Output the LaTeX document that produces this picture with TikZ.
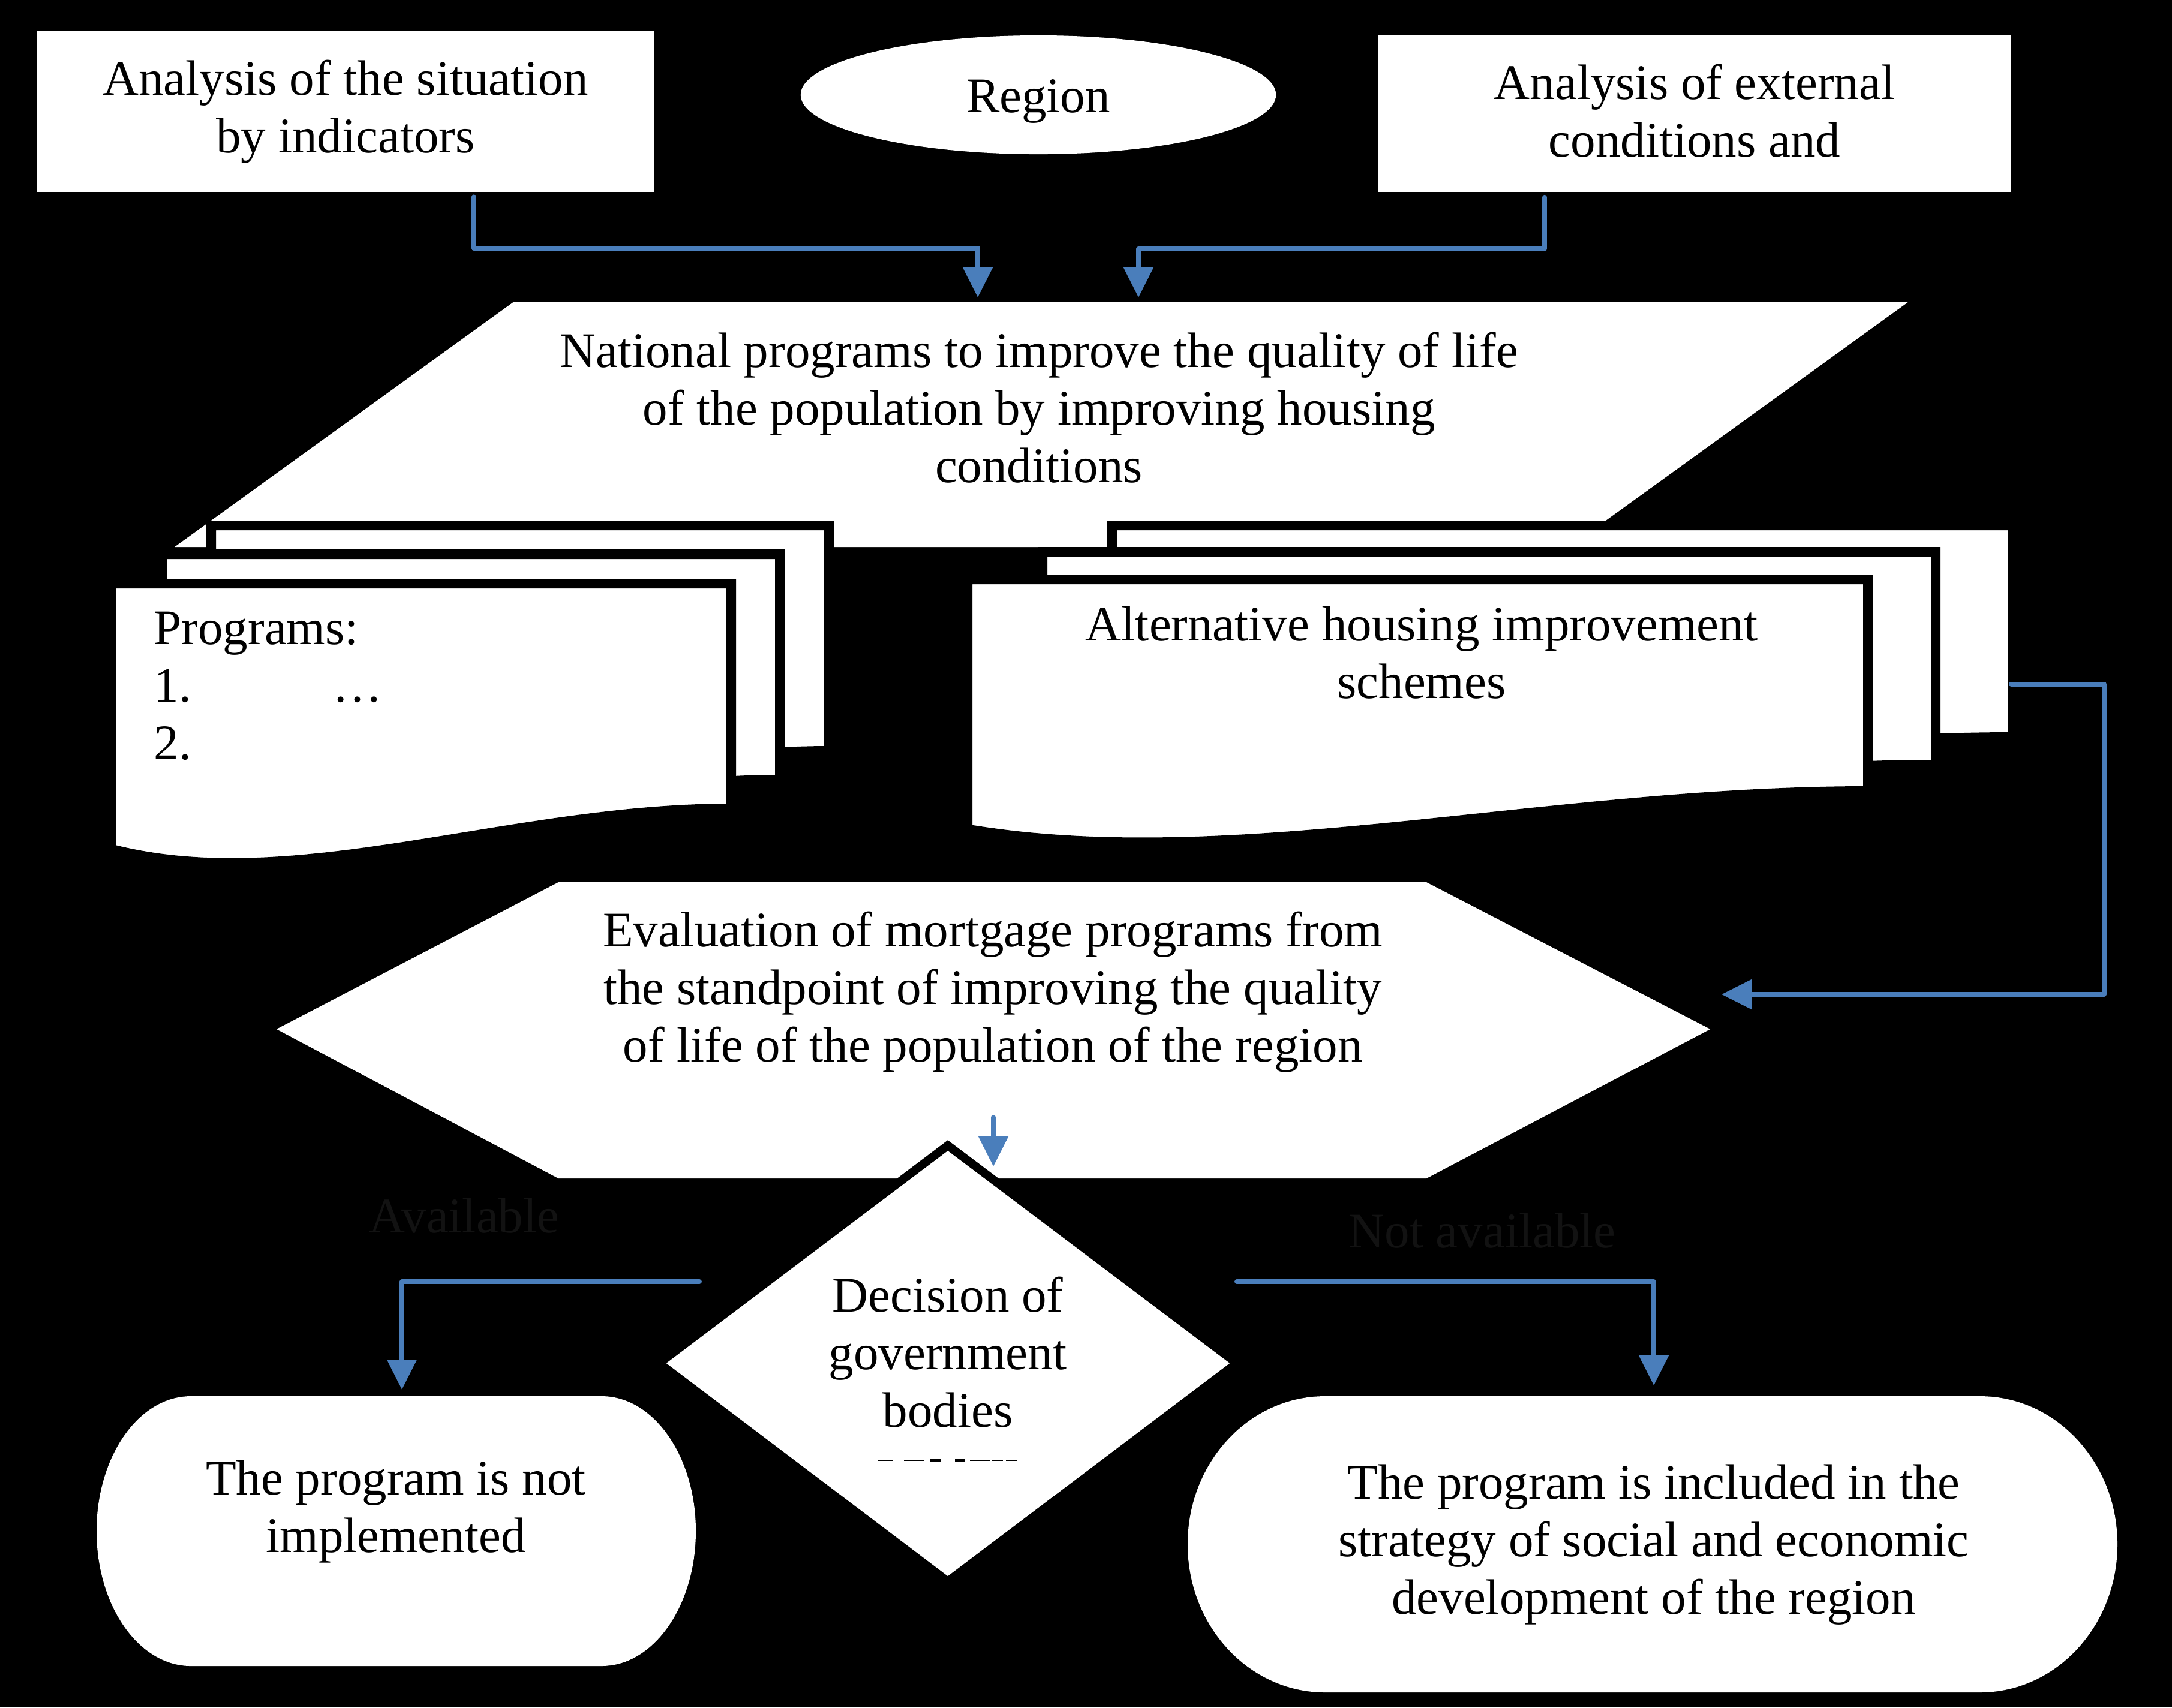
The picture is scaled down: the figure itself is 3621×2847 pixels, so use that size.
\documentclass[tikz,border=0pt]{standalone}
\usepackage{fontspec}
\setmainfont{Liberation Serif}
\usetikzlibrary{arrows.meta,calc,shapes.geometric}
\definecolor{conblue}{RGB}{74,126,187}
\definecolor{faint}{RGB}{18,18,18}
\begin{document}
\begin{tikzpicture}[x=0.01cm,y=-0.01cm,
  txt/.style={font=\fontsize{23.6pt}{27.3pt}\selectfont, align=center, inner sep=0pt, text=black},
  shapefill/.style={fill=white, draw=none},
  docsty/.style={fill=white, draw=black, line width=0.16cm, line join=miter},
  diasty/.style={fill=white, draw=black, line width=0.14cm, line join=miter},
  conn/.style={draw=conblue, line width=0.08cm, line cap=round, line join=round},
  arr/.style={conn, -{Triangle[length=0.5cm,width=0.48cm,sharp]}},
  pics/mdoc/.style args={#1/#2}{code={%
    \path[docsty] (0,0) -- (#1,0) -- (#1,#2)
      .. controls ({0.64*#1},#2) and ({0.295*#1},{1.39*#2}) .. (0,{1.18*#2}) -- cycle;}}
]
% background
\fill[black] (0,0) rectangle (3621,2847);
\useasboundingbox (0,0) rectangle (3621,2847);

% top row
\node[txt, fill=white, minimum width=10.28cm, minimum height=2.67cm] (box1) at (576,186)
  {Analysis of the situation\\by indicators};
\node[txt, ellipse, fill=white, minimum width=7.92cm, minimum height=1.98cm] (region) at (1731,158) {};
\node[txt] (regionT) at (1731,169) {Region};
\node[txt, fill=white, minimum width=10.55cm, minimum height=2.62cm] (box2) at (2825,189) {};
\node[txt] (box2T) at (2825,185) {Analysis of external\\conditions and};

% parallelogram
\path[shapefill] (857,503) -- (3182,503) -- (2616,912) -- (291,912) -- cycle;
\node[txt] (nat) at (1732,680) {National programs to improve the quality of life\\of the population by improving housing\\conditions};

% documents, left stack
\pic at (352,876) {mdoc=1030/376};
\pic at (270,924) {mdoc=1030/376};
\pic at (185,973) {mdoc=1034/375};
\node[txt, anchor=west, align=left] (progs) at (256,1144)
  {Programs:\\\makebox[2.98cm][l]{1.}…\\2.};

% documents, right stack
\pic at (1854,876) {mdoc=1501/353};
\pic at (1738,920) {mdoc=1489/355};
\pic at (1613,966) {mdoc=1501/353};
\node[txt] (alt) at (2370,1088) {Alternative housing improvement\\schemes};

% hexagon
\path[shapefill] (931,1471) -- (2378,1471) -- (2851,1716) -- (2378,1965) -- (931,1965) -- (461,1716) -- cycle;
\node[txt] (evalT) at (1655,1654) {Evaluation of mortgage programs from\\the standpoint of improving the quality\\of life of the population of the region};

% diamond
\path[diasty] (1580,1910) -- (2062,2273) -- (1580,2637) -- (1099,2273) -- cycle;
\node[txt] (dec) at (1580,2255) {Decision of\\government\\bodies};
\draw[black, line width=0.025cm] (1463,2435) -- (1489,2435) (1507,2435) -- (1541,2435)
  (1617,2435) -- (1651,2435) (1654,2435) -- (1672,2435) (1677,2435) -- (1696,2435);
\draw[black, line width=0.045cm] (1551,2435) -- (1569,2435) (1592,2435) -- (1608,2435);

% faint labels
\node[txt, text=faint] (avail) at (774,2027) {Available};
\node[txt, text=faint] (notavail) at (2471,2052) {Not available};

% terminals
\path[shapefill] (318,2328) -- (1003,2328) arc[start angle=-90, end angle=90, x radius=157, y radius=225]
  -- (318,2778) arc[start angle=90, end angle=270, x radius=157, y radius=225] -- cycle;
\node[txt] (notimpl) at (660,2520) {The program is not\\implemented};
\path[shapefill] (2209,2328) -- (3301,2328) arc[start angle=-90, end angle=90, x radius=229, y radius=247]
  -- (2209,2822) arc[start angle=90, end angle=270, x radius=229, y radius=247] -- cycle;
\node[txt] (incl) at (2757,2576) {The program is included in the\\strategy of social and economic\\development of the region};

% connector end points
\coordinate (in1) at (1630,496);
\coordinate (in2) at (1898,496);
\coordinate (hexOut) at (1656,1863);
\coordinate (diaIn) at (1656,1945);
\coordinate (fbS) at (3353,1141);
\coordinate (fbE) at (2870,1658);
\coordinate (dL) at (1166,2137);
\coordinate (dR) at (2062,2137);
\coordinate (tLin) at (670,2317);
\coordinate (tRin) at (2757,2310);

% connectors
\draw[arr] ([xshift=2.14cm,yshift=-0.08cm]box1.south) -- ++(0,86) -| (in1);
\draw[arr] ([xshift=-2.50cm,yshift=-0.08cm]box2.south) -- ++(0,86) -| (in2);
\draw[arr] (fbS) -- (3508,1141) |- (fbE);
\draw[arr] (hexOut) -- (diaIn);
\draw[arr] (dL) -| (tLin);
\draw[arr] (dR) -| (tRin);
\end{tikzpicture}
\end{document}
